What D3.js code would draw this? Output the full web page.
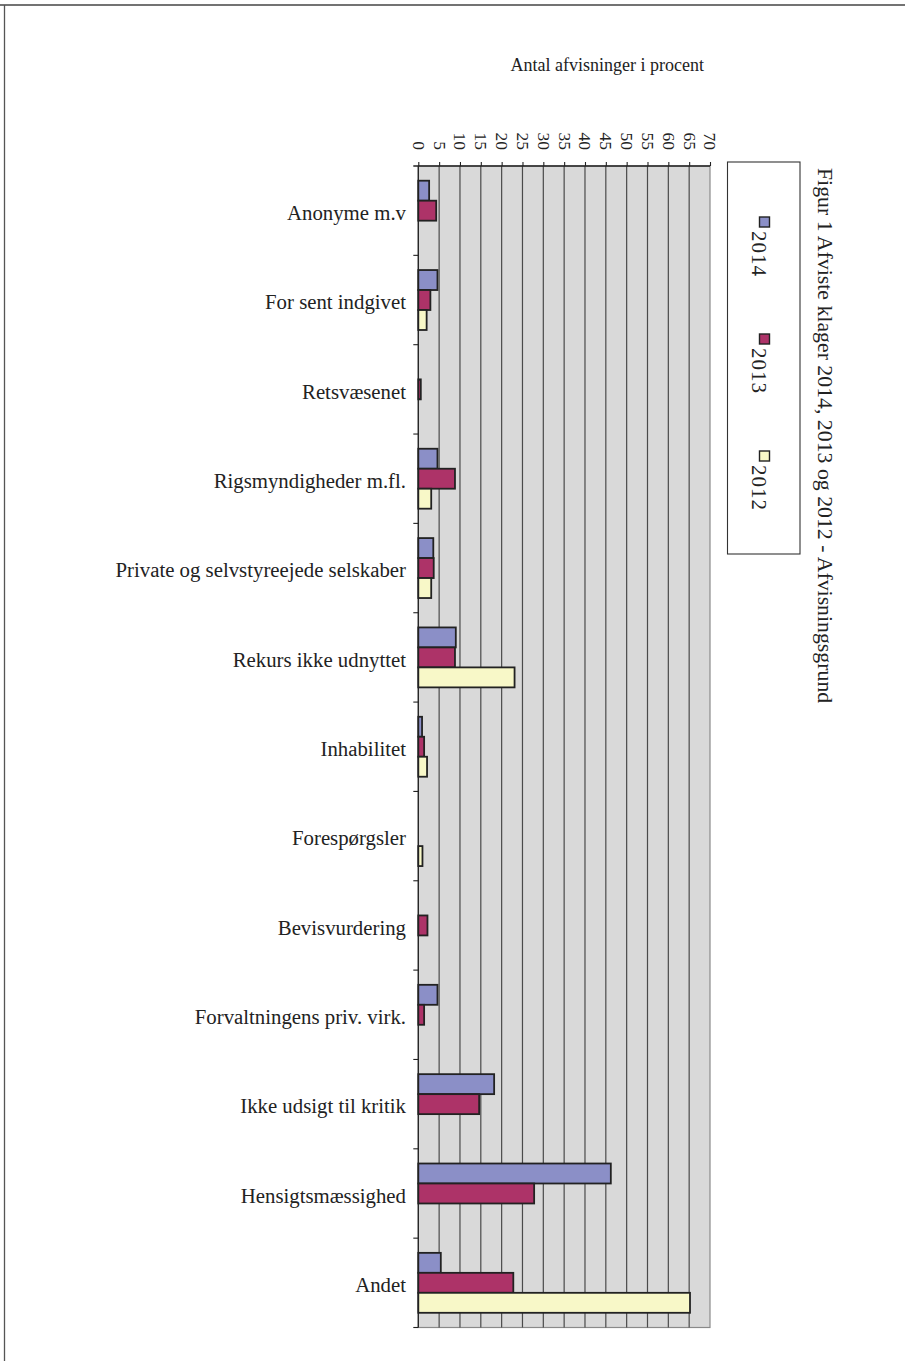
<!DOCTYPE html>
<html>
<head>
<meta charset="utf-8">
<script src="https://cdn.jsdelivr.net/npm/d3@7"></script>
<style>
  html, body { margin: 0; padding: 0; background: #fff; }
  svg { display: block; }
  text { font-family: "Liberation Serif", "DejaVu Serif", serif; fill: #222; }
</style>
</head>
<body>
<svg id="chart" width="905" height="1361"></svg>
<script>
const categories = [
  "Anonyme m.v",
  "For sent indgivet",
  "Retsvæsenet",
  "Rigsmyndigheder m.fl.",
  "Private og selvstyreejede selskaber",
  "Rekurs ikke udnyttet",
  "Inhabilitet",
  "Forespørgsler",
  "Bevisvurdering",
  "Forvaltningens priv. virk.",
  "Ikke udsigt til kritik",
  "Hensigtsmæssighed",
  "Andet"
];
const seriesNames = ["2014", "2013", "2012"];
const values2014 = [2.6, 4.6, 0, 4.6, 3.6, 9.0, 0.9, 0, 0, 4.6, 18.2, 46.2, 5.4];
const values2013 = [4.3, 2.9, 0.6, 8.8, 3.7, 8.8, 1.4, 0, 2.2, 1.4, 14.6, 27.8, 22.8];
const values2012 = [0, 2.0, 0, 3.1, 3.1, 23.1, 2.1, 1.0, 0, 0, 0, 0, 65.2];
const xTicks = [0,5,10,15,20,25,30,35,40,45,50,55,60,65,70];
const colors = ["#8b8fc7", "#ad3368", "#f8f8c8"];
const axisTitle = "Antal afvisninger i procent";
const chartTitle = "Figur 1 Afviste klager 2014, 2013 og 2012 - Afvisningsgrund";

const seriesValues = [values2014, values2013, values2012];
const svg = d3.select("#chart");

// page frame lines (top and left)
svg.append("line").attr("x1", 0).attr("x2", 905).attr("y1", 5).attr("y2", 5)
  .attr("stroke", "#444").attr("stroke-width", 1.3);
svg.append("line").attr("x1", 4.5).attr("x2", 4.5).attr("y1", 5).attr("y2", 1361)
  .attr("stroke", "#555").attr("stroke-width", 1.3);

const plot = { left: 418.3, right: 710, top: 166, bottom: 1327.5 };

const x = d3.scaleLinear().domain([0, 70]).range([plot.left, plot.right]);
const y = d3.scaleBand().domain(categories).range([plot.top, plot.bottom]).padding(0);
const bw = y.bandwidth();
const ySub = d3.scaleBand().domain(seriesNames).range([14.7, bw - 14.7]).padding(0);

// background
svg.append("rect")
  .attr("x", plot.left).attr("y", plot.top)
  .attr("width", plot.right - plot.left).attr("height", plot.bottom - plot.top)
  .attr("fill", "#d9d9d9").attr("stroke", "#8a8a8a").attr("stroke-width", 1.2);

// gridlines
svg.append("g").selectAll("line").data(xTicks.slice(1, -1)).join("line")
  .attr("x1", d => x(d)).attr("x2", d => x(d))
  .attr("y1", plot.top).attr("y2", plot.bottom)
  .attr("stroke", "#4a4a4a").attr("stroke-width", 1.2);

// bars
const groups = svg.append("g").selectAll("g").data(categories).join("g")
  .attr("transform", d => `translate(0,${y(d)})`);
groups.selectAll("rect")
  .data((c, i) => seriesNames.map((s, k) => ({ s, k, v: seriesValues[k][i] })).filter(d => d.v > 0))
  .join("rect")
  .attr("x", x(0))
  .attr("y", d => ySub(d.s))
  .attr("width", d => x(d.v) - x(0))
  .attr("height", ySub.bandwidth())
  .attr("fill", d => colors[d.k])
  .attr("stroke", "#222").attr("stroke-width", 1.8);

// top axis
const xAxis = d3.axisTop(x).tickValues(xTicks).tickSize(4).tickSizeOuter(0).tickFormat(d3.format("d"));
const gx = svg.append("g").attr("transform", `translate(0,${plot.top})`).call(xAxis);
gx.select(".domain").attr("d", `M${plot.left - 5},0H${plot.right}`).attr("stroke", "#222").attr("stroke-width", 1.3);
gx.selectAll(".tick line").attr("stroke", "#222").attr("stroke-width", 1.1);
gx.selectAll(".tick text")
  .attr("transform", "translate(0,-16) rotate(90)")
  .attr("x", 0).attr("y", 0).attr("dy", "0.35em")
  .attr("text-anchor", "end")
  .style("font-family", "'Liberation Serif', serif")
  .style("font-size", "17.5px").attr("fill", "#222");

// left axis
svg.append("line").attr("x1", plot.left).attr("x2", plot.left)
  .attr("y1", plot.top).attr("y2", plot.bottom).attr("stroke", "#222").attr("stroke-width", 1.3);
const boundaries = categories.map(c => y(c)).slice(1).concat([plot.bottom]);
svg.append("g").selectAll("line").data(boundaries).join("line")
  .attr("x1", plot.left - 5).attr("x2", plot.left)
  .attr("y1", d => d).attr("y2", d => d)
  .attr("stroke", "#222").attr("stroke-width", 1.1);

// category labels
svg.append("g").selectAll("text").data(categories).join("text")
  .attr("x", 406).attr("y", d => y(d) + bw / 2 + 2)
  .attr("dy", "0.35em").attr("text-anchor", "end")
  .style("font-size", "20.8px")
  .text(d => d);

// axis title
svg.append("text").attr("x", 704).attr("y", 71).attr("text-anchor", "end")
  .style("font-size", "18px").text(axisTitle);

// legend
const lg = svg.append("g");
lg.append("rect").attr("x", 727.5).attr("y", 162).attr("width", 72.5).attr("height", 392)
  .attr("fill", "#fff").attr("stroke", "#333").attr("stroke-width", 1.1);
const items = lg.selectAll("g").data(seriesNames).join("g")
  .attr("transform", (d, i) => `translate(0,${217 + i * 117})`);
items.append("rect").attr("x", 759.5).attr("y", 0).attr("width", 10).attr("height", 10)
  .attr("fill", (d, i) => colors[i]).attr("stroke", "#222").attr("stroke-width", 1.4);
items.append("text")
  .attr("transform", "translate(752,14) rotate(90)")
  .attr("text-anchor", "start")
  .style("font-size", "21px").style("letter-spacing", "1px")
  .text(d => d);

// chart title (rotated)
svg.append("text")
  .attr("transform", "translate(818,168) rotate(90)")
  .attr("text-anchor", "start")
  .style("font-size", "21.8px")
  .text(chartTitle);
</script>
</body>
</html>
